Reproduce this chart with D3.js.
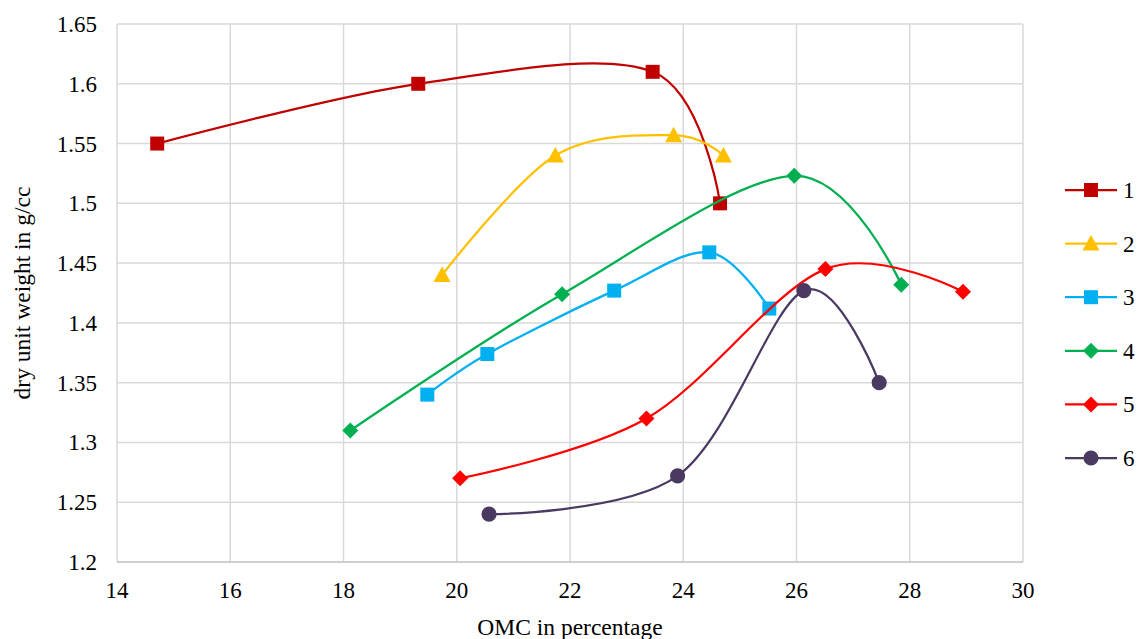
<!DOCTYPE html>
<html><head><meta charset="utf-8">
<script src="https://cdn.jsdelivr.net/npm/d3@7"></script>
<style>body{margin:0;background:#fff}text{font-family:"Liberation Serif","Times New Roman",serif;fill:#000}</style>
</head><body><svg id="c" width="1139" height="639"></svg>
<script>
const seriesNames = ["1","2","3","4","5","6"];
const s1x = [14.71, 19.32, 23.46, 24.65], s1y = [1.55, 1.60, 1.61, 1.50];
const s2x = [19.74, 21.74, 23.83, 24.71], s2y = [1.44, 1.54, 1.557, 1.54];
const s3x = [19.48, 20.54, 22.78, 24.46, 25.52], s3y = [1.34, 1.374, 1.427, 1.459, 1.412];
const s4x = [18.12, 21.86, 25.96, 27.85], s4y = [1.31, 1.424, 1.523, 1.432];
const s5x = [20.06, 23.35, 26.51, 28.94], s5y = [1.27, 1.32, 1.445, 1.426];
const s6x = [20.57, 23.90, 26.13, 27.46], s6y = [1.24, 1.272, 1.427, 1.35];
const xTicks = [14,16,18,20,22,24,26,28,30];
const yTicks = [1.2,1.25,1.3,1.35,1.4,1.45,1.5,1.55,1.6,1.65];
const colors = ["#C00000","#FFC000","#00B0F0","#00B050","#FF0000","#4A3A62"];
const markers = ["square","triangle","square","diamond","diamond","circle"];
const xs = [s1x,s2x,s3x,s4x,s5x,s6x], ys = [s1y,s2y,s3y,s4y,s5y,s6y];

const svg = d3.select("#c");
const L=117, R=1023, T=24, B=562;
const x = d3.scaleLinear().domain([14,30]).range([L,R]);
const y = d3.scaleLinear().domain([1.2,1.65]).range([B,T]);

// grid
svg.append("g").selectAll("line").data(xTicks).join("line")
  .attr("x1",d=>x(d)).attr("x2",d=>x(d)).attr("y1",T).attr("y2",B)
  .attr("stroke","#d9d9d9").attr("stroke-width",1.5);
svg.append("g").selectAll("line").data(yTicks).join("line")
  .attr("x1",L).attr("x2",R).attr("y1",d=>y(d)).attr("y2",d=>y(d))
  .attr("stroke",d=>d===1.2?"#bfbfbf":"#d9d9d9").attr("stroke-width",1.5);

// tick labels
svg.append("g").selectAll("text").data(yTicks).join("text")
  .attr("x",L-20).attr("y",d=>y(d)).attr("dy","0.35em").attr("text-anchor","end")
  .attr("font-size",23).text(d=>d3.format("")(d));
svg.append("g").selectAll("text").data(xTicks).join("text")
  .attr("x",d=>x(d)).attr("y",B+36).attr("text-anchor","middle")
  .attr("font-size",23).text(d=>d);

svg.append("text").attr("x",(L+R)/2).attr("y",635).attr("text-anchor","middle")
  .attr("font-size",23.5).text("OMC in percentage");
svg.append("text").attr("transform",`translate(30,${(T+B)/2}) rotate(-90)`).attr("text-anchor","middle")
  .attr("font-size",23.5).text("dry unit weight in g/cc");

function markerPath(type){
  if(type==="square") return "M-7,-7H7V7H-7Z";
  if(type==="triangle") return "M0,-8.5L8.5,7H-8.5Z";
  if(type==="diamond") return "M0,-8L8,0L0,8L-8,0Z";
  return d3.symbol(d3.symbolCircle, 180)();
}

const line = d3.line().x(d=>x(d[0])).y(d=>y(d[1])).curve(d3.curveCatmullRom.alpha(0));
xs.forEach((sx,i)=>{
  const pts = sx.map((v,j)=>[v, ys[i][j]]);
  const g = svg.append("g");
  g.append("path").attr("d",line(pts)).attr("fill","none").attr("stroke",colors[i]).attr("stroke-width",2.25);
  g.selectAll("path.m").data(pts).join("path").attr("class","m")
    .attr("transform",d=>`translate(${x(d[0])},${y(d[1])})`)
    .attr("d",markerPath(markers[i])).attr("fill",colors[i]);
});

// legend
const legY = d3.scalePoint().domain(seriesNames).range([190,458]);
const lg = svg.append("g");
seriesNames.forEach((n,i)=>{
  const yy = legY(n);
  lg.append("line").attr("x1",1065).attr("x2",1117).attr("y1",yy).attr("y2",yy).attr("stroke",colors[i]).attr("stroke-width",2.25);
  lg.append("path").attr("transform",`translate(1091,${yy})`).attr("d",markerPath(markers[i])).attr("fill",colors[i]);
  lg.append("text").attr("x",1123).attr("y",yy).attr("dy","0.35em").attr("font-size",23).text(n);
});
</script></body></html>
